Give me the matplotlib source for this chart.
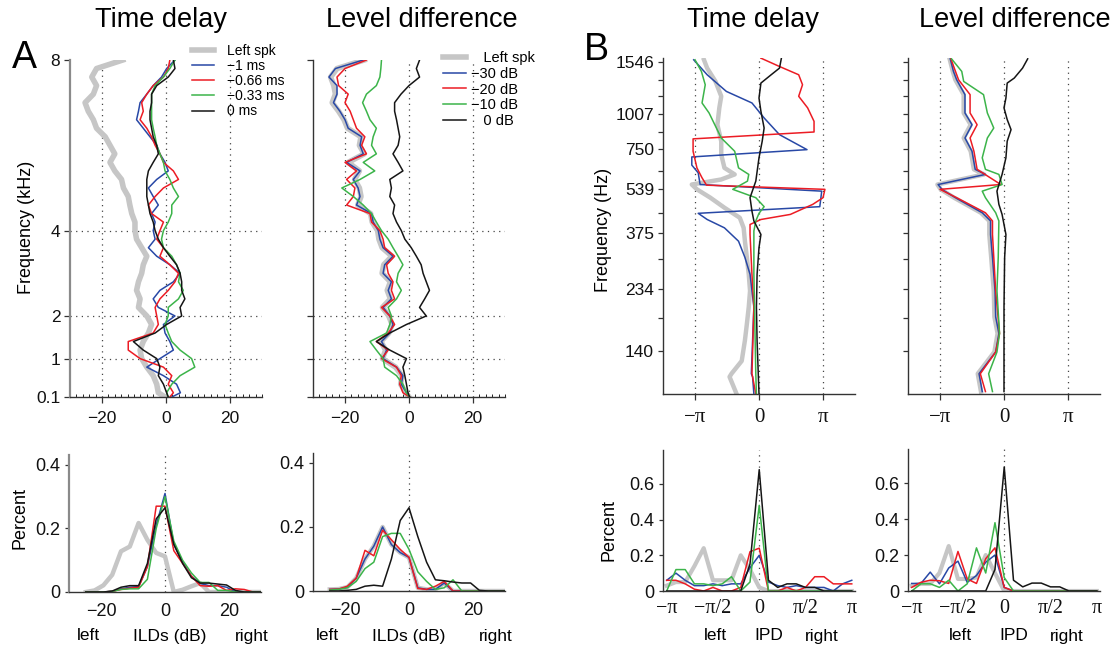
import numpy as np
import matplotlib
matplotlib.use("Agg")
import matplotlib.pyplot as plt

plt.rcParams['font.family'] = ['Liberation Sans', 'DejaVu Sans']
plt.rcParams['axes.linewidth'] = 1.0

W, H = 1114, 648

# ---------------- data ----------------
# Panel A (top): frequency (kHz) vs ILD (dB)
A_FREQ = [8.0, 7.8, 7.6, 7.4, 7.2, 7.0, 6.8, 6.6, 6.4, 6.2, 6.0, 5.8, 5.6, 5.4, 5.2, 5.0,
          4.8, 4.6, 4.4, 4.2, 4.0, 3.8, 3.6, 3.4, 3.2, 3.0, 2.8, 2.6, 2.4, 2.2, 2.0, 1.8,
          1.6, 1.4, 1.2, 1.0, 0.8, 0.6, 0.4, 0.2, 0.1]

A_TD_LEFT = [-13.5, -21.7, -23.2, -21.7, -22.7, -25.3, -24.3, -22.7, -21.7, -19, -17.5, -16, -17.5,
             -16, -13.9, -13.3, -11.8, -11.3, -10.7, -9.7, -9.7, -9.2, -7.6, -6, -7.1, -7.6, -8.6,
             -9.2, -8.1, -8.6, -6, -4.5, -5.5, -7.1, -8.1, -7.6, -6, -4, -2.9, -2.4, -0.3]
A_TD_M1 = [2.8, 0.2, -1.4, -4, -6, -8.1, -8.6, -9.2, -7.1, -5, -2.9, -1.9, -0.3, 0.7, -2.9, -5.5,
           -4, -2.4, -4.5, -3.4, -4, -3.4, -5.5, -2.9, 1.2, 4.4, 2.3, -1.9, -4, -2.4, 2.8, -0.8,
           -0.3, 1.2, 2.3, -1.9, -6, -0.8, 3.3, 4.5, 1.8]
A_TD_M066 = [1.2, 0.7, -0.8, -4, -6, -7.6, -7.1, -8.1, -6, -4.5, -3.4, -1.9, -0.8, 2.3, 3.9, -0.8,
             -3.4, -5.5, -4.5, -0.8, -1.9, -2.9, -0.8, -1.9, 1.2, 3.9, 2.8, 0.7, -1.9, -3.4, -2.9,
             -2.4, -4, -11.8, -11.8, -8.1, -0.8, 1.8, 0.7, 2.3, 1.2]
A_TD_M033 = [2.8, 1.2, -0.8, -3.4, -4.5, -4.5, -4.5, -4.5, -4, -3.4, -2.9, -1.9, -0.8, -0.3, 1.2,
             2.3, 3.9, 1.8, 1.8, 0.7, -0.8, -1.4, -0.8, 1.8, 3.3, 4.4, 3.9, 5.4, 3.9, 0.7, 0.7,
             -0.3, 0.7, 1.8, 4.4, 8, 9, 4.4, 1.8, 0.2, 0.7]
A_TD_0 = [2.3, 2.8, 0.7, -2.9, -4.5, -4.5, -5, -5, -4.5, -4, -2.9, -2.4, -4, -5.5, -6, -6, -6,
          -5.5, -5, -4, -3.4, -2.4, -0.8, 1.2, 3.3, 4.4, 4.9, 4.9, 5.9, 4.4, 4.9, 0.2, -3.4,
          -10.2, -7.1, -2.9, -1.9, -2.4, -0.8, 0.2, 0.7]

A_LD_LEFT = [-14.0, -22.5, -24.5, -23.5, -23.0, -24.0, -22.0, -20.3, -19.2, -15.0, -15.5, -14.0,
             -19.0, -15.5, -17.0, -15.5, -15.0, -16.0, -12.0, -11.5, -9.8, -9.4, -8.4, -5.3, -7.9,
             -8.4, -5.8, -6.8, -5.8, -8.3, -6.3, -5.3, -6.3, -8.8, -7.3, -8.3, -4.2, -2.2, -2.6,
             -1.0, 0.0]
A_LD_M30 = [-14.3, -23, -25, -22.5, -22.5, -23.6, -21.6, -20, -19, -14.8, -15.3, -14.3, -19.5,
            -15.3, -17.4, -15.9, -15.3, -16.4, -11.7, -11.2, -9.6, -9.1, -8.1, -5, -7.6, -8.1,
            -5.5, -6.5, -5.5, -8.1, -6, -5, -6, -8.6, -7, -8.1, -3.9, -1.9, -2.4, -0.8, 0.2]
A_LD_M20 = [-13.3, -20, -22.5, -22, -19, -20, -18.4, -17.4, -16.4, -13.8, -14.8, -13.3, -20,
            -16.4, -19.5, -16.9, -17.4, -19.5, -12.2, -11.7, -9.1, -8.1, -7.6, -4.5, -7, -6.5,
            -5, -5.5, -4.5, -8.6, -6, -4.5, -6.5, -10.2, -6.5, -8.6, -3.9, -2.4, -2.9, -1.9, 0.2]
A_LD_M10 = [-8.6, -8.8, -9.1, -10.2, -13.3, -14.5, -13.3, -12.2, -10.2, -11.2, -11.7, -10.2,
            -14.3, -10.7, -15.3, -21, -17.4, -14.3, -11.7, -10.2, -8.6, -6.5, -5, -3.4, -1.9,
            -3.4, -3.9, -2.4, -3.9, -6.5, -5.5, -6, -7, -12.2, -10.2, -8.1, -7.6, -3.9, -1.9,
            -0.8, 0.2]
A_LD_0 = [3.3, 2.3, 3.3, 0, -2.5, -4.5, -4.5, -3.9, -3.4, -2.9, -3.4, -5, -3.4, -1.9, -6, -5.5,
          -6, -4.5, -5, -3.9, -2.4, -1.3, 0.7, 2.3, 3.8, 4.4, 5.4, 6.4, 4.9, 3.3, 5.4, -0.8, -6,
          -10.2, -6, -0.8, -1.9, -1.3, -0.8, -0.3, 0.2]

# Panel A (bottom): ILD histograms
A_BINS = [-24.75, -22, -19.25, -16.5, -13.75, -11, -8.25, -5.5, -2.75, 0, 2.75, 5.5, 8.25, 11,
          13.75, 16.5, 19.25, 22, 24.75, 27.5, 30]
AH_TD_LEFT = [0, 0.005, 0.021, 0.054, 0.128, 0.143, 0.217, 0.164, 0.123, 0.112, 0, 0.007, 0.018,
              0.028, 0, 0, 0, 0, 0, 0, 0]
AH_TD_M1 = [0, 0, 0, 0.002, 0.01, 0.015, 0.017, 0.08, 0.21, 0.31, 0.15, 0.095, 0.05, 0.027,
            0.02, 0.02, 0.015, 0, 0, 0, 0]
AH_TD_M066 = [0, 0, 0, 0.002, 0.008, 0.012, 0.015, 0.08, 0.27, 0.27, 0.13, 0.09, 0.05, 0.02,
              0.018, 0.02, 0.005, 0.01, 0.008, 0, 0]
AH_TD_M033 = [0, 0, 0, 0.002, 0.008, 0.01, 0.01, 0.04, 0.2, 0.3, 0.16, 0.1, 0.06, 0.03, 0.03,
              0.005, 0.005, 0, 0, 0, 0]
AH_TD_0 = [0, 0, 0, 0.003, 0.015, 0.02, 0.02, 0.09, 0.23, 0.265, 0.15, 0.09, 0.045, 0.028,
           0.028, 0.025, 0.022, 0.005, 0, 0, 0]

AH_LD_LEFT = [0.005, 0.006, 0.012, 0.04, 0.1, 0.14, 0.2, 0.145, 0.12, 0.105, 0.01, 0.005,
              0.005, 0.025, 0, 0, 0, 0, 0, 0, 0]
AH_LD_M30 = [0.005, 0.006, 0.012, 0.04, 0.1, 0.14, 0.2, 0.145, 0.12, 0.105, 0.01, 0.005, 0.005,
             0.025, 0, 0, 0, 0, 0, 0, 0]
AH_LD_M20 = [0.005, 0.006, 0.015, 0.04, 0.127, 0.11, 0.19, 0.16, 0.13, 0.105, 0.008, 0.005,
             0.015, 0.03, 0, 0, 0, 0, 0, 0, 0]
AH_LD_M10 = [0.003, 0.005, 0.01, 0.03, 0.07, 0.09, 0.17, 0.18, 0.18, 0.13, 0.06, 0.03, 0.005,
             0.01, 0.035, 0, 0, 0, 0, 0, 0]
AH_LD_0 = [0, 0, 0.002, 0.005, 0.015, 0.018, 0.015, 0.1, 0.22, 0.26, 0.17, 0.09, 0.035, 0.032,
           0.028, 0.025, 0.025, 0.002, 0, 0, 0]

# Panel B (top): frequency (Hz) vs IPD (in units of pi)
B_TICKS = [140, 185, 234, 302, 375, 442, 539, 628, 750, 865, 1007, 1170, 1328, 1546]
B_TICKLABELS = ['140', '', '234', '', '375', '', '539', '', '750', '', '1007', '', '', '1546']

B_TD_LEFT_F = [1576, 1471, 1317, 1164, 1057, 919, 801, 717, 642, 608, 583, 559, 537, 501, 461,
               424, 390, 349, 305, 265, 231, 202, 175, 153, 129, 116, 113, 98]
B_TD_LEFT = [-0.86, -0.81, -0.68, -0.59, -0.62, -0.65, -0.59, -0.59, -0.54, -0.38, -0.59, -1.05,
             -0.97, -0.76, -0.54, -0.30, -0.24, -0.22, -0.19, -0.16, -0.14, -0.16, -0.19, -0.22,
             -0.27, -0.43, -0.46, -0.35]
B_TD_M1_F = [1576, 1392, 1212, 1101, 972, 846, 747, 703, 657, 616, 559, 529, 465, 440, 418, 390,
             349, 305, 265, 202, 116, 113, 98]
B_TD_M1 = [-1.02, -0.81, -0.51, -0.11, 0.08, 0.32, 0.75, -1.05, -1.05, -0.95, -0.92, 0.98, 0.95,
           -0.95, -0.81, -0.54, -0.32, -0.22, -0.14, -0.08, -0.12, -0.10, -0.08]
B_TD_M066_F = [1598, 1491, 1392, 1281, 1164, 1057, 945, 865, 817, 737, 642, 591, 556, 537, 501,
               474, 436, 418, 401, 369, 265, 202, 116, 113, 98]
B_TD_M066 = [0.03, 0.32, 0.62, 0.68, 0.62, 0.76, 0.86, 0.86, -1.03, -1.03, -0.97, -0.89, -0.82,
             1.03, 1.0, 0.84, 0.49, 0.03, -0.14, -0.14, -0.11, -0.08, -0.11, -0.10, -0.05]
B_TD_M033_F = [1576, 1431, 1281, 1101, 1013, 823, 737, 642, 608, 575, 537, 501, 465, 440, 413,
               380, 265, 116, 98]
B_TD_M033 = [-1.0, -0.9, -0.84, -0.89, -0.78, -0.59, -0.38, -0.32, -0.16, -0.18, -0.41, -0.05,
             0.08, 0.0, -0.05, -0.08, -0.08, -0.05, -0.04]
B_TD_0_F = [1598, 1471, 1392, 1299, 1147, 1027, 894, 801, 698, 575, 501, 448, 413, 369, 331, 265,
            202, 153, 98]
B_TD_0 = [0.35, 0.32, 0.19, 0.03, 0.0, 0.03, 0.08, 0.05, 0.0, -0.05, -0.14, -0.11, -0.08, 0.03,
          0.0, -0.03, -0.04, -0.03, 0.0]

B_LD_M30_F = [1589, 1431, 1335, 1180, 1013, 919, 823, 737, 634, 608, 559, 537, 501, 442, 413, 369,
              305, 231, 186, 162, 139, 116, 100]
B_LD_M30 = [-0.84, -0.79, -0.74, -0.61, -0.61, -0.5, -0.61, -0.5, -0.45, -0.29, -1.03, -0.97,
            -0.76, -0.34, -0.21, -0.21, -0.18, -0.14, -0.13, -0.08, -0.13, -0.39, -0.34]
B_LD_LEFT_F = B_LD_M30_F
B_LD_LEFT = [-0.85, -0.80, -0.76, -0.63, -0.63, -0.52, -0.63, -0.52, -0.47, -0.31, -1.04, -0.99,
             -0.78, -0.36, -0.23, -0.23, -0.20, -0.16, -0.15, -0.10, -0.15, -0.41, -0.36]
B_LD_M20_F = [1589, 1335, 1180, 1013, 919, 823, 737, 634, 559, 537, 501, 442, 413, 369, 231, 162,
              139, 116, 100]
B_LD_M20 = [-0.83, -0.71, -0.53, -0.53, -0.42, -0.53, -0.47, -0.42, -0.05, -1.0, -0.74, -0.29,
            -0.18, -0.18, -0.13, -0.07, -0.13, -0.37, -0.29]
B_LD_M10_F = [1589, 1431, 1317, 1180, 1013, 894, 823, 698, 634, 608, 559, 529, 501, 442, 413, 305,
              231, 162, 139, 116, 100]
B_LD_M10 = [-0.82, -0.66, -0.63, -0.32, -0.26, -0.16, -0.26, -0.34, -0.29, -0.08, -0.03, -0.34,
            -0.29, -0.13, -0.08, -0.09, -0.11, -0.07, -0.11, -0.24, -0.18]
B_LD_0_F = [1589, 1471, 1354, 1299, 1147, 1057, 959, 882, 801, 698, 608, 529, 474, 436, 369, 305,
            202, 100]
B_LD_0 = [0.37, 0.29, 0.16, 0.05, 0.03, 0.0, 0.05, 0.11, 0.05, 0.03, -0.03, -0.11, -0.08, -0.03,
          0.03, 0.01, 0.0, 0.0]

# Panel B (bottom): IPD histograms (bins in units of pi)
B_BINS = [-1.0, -0.9, -0.8, -0.7, -0.6, -0.5, -0.4, -0.3, -0.2, -0.1, 0.0, 0.1, 0.2, 0.3, 0.4,
          0.5, 0.6, 0.7, 0.8, 0.9, 1.0]
BH_TD_LEFT = [0.03, 0.05, 0.05, 0.14, 0.24, 0.06, 0.06, 0.06, 0.2, 0.12, 0.02, 0, 0, 0, 0, 0, 0,
              0, 0, 0, 0]
BH_TD_M1 = [0.06, 0.1, 0.06, 0.03, 0.03, 0.04, 0.03, 0.04, 0.04, 0.13, 0.2, 0.05, 0.03, 0.02,
            0.03, 0.02, 0.02, 0.02, 0.0, 0.04, 0.06]
BH_TD_M066 = [0.06, 0.06, 0.04, 0.01, 0.0, 0.02, 0.0, 0.0, 0.02, 0.22, 0.24, 0.0, 0.0, 0.02, 0.0,
              0.02, 0.08, 0.08, 0.04, 0.04, 0.04]
BH_TD_M033 = [0.0, 0.12, 0.12, 0.04, 0.04, 0.03, 0.04, 0.08, 0.0, 0.05, 0.48, 0.0, 0, 0, 0, 0, 0,
              0, 0, 0, 0]
BH_TD_0 = [0, 0, 0, 0, 0, 0, 0, 0, 0, 0.15, 0.68, 0.06, 0.02, 0.04, 0.04, 0.02, 0.02, 0.0, 0, 0, 0]

BH_LD_LEFT = [0.03, 0.04, 0.04, 0.1, 0.25, 0.067, 0.067, 0.075, 0.2, 0.1, 0.0, 0, 0, 0, 0, 0, 0,
              0, 0, 0, 0]
BH_LD_M30 = [0.042, 0.042, 0.105, 0.04, 0.128, 0.166, 0.048, 0.086, 0.16, 0.2, 0.02, 0, 0, 0, 0,
             0, 0, 0, 0, 0, 0]
BH_LD_M20 = [0.02, 0.048, 0.06, 0.057, 0.042, 0.22, 0.067, 0.042, 0.18, 0.24, 0.02, 0, 0, 0, 0,
             0, 0, 0, 0, 0, 0]
BH_LD_M10 = [0.0, 0.04, 0.04, 0.02, 0.06, 0.0, 0.04, 0.24, 0.1, 0.38, 0.075, 0, 0, 0, 0, 0, 0, 0,
             0, 0, 0]
BH_LD_0 = [0, 0, 0, 0, 0, 0, 0, 0, 0, 0.12, 0.69, 0.06, 0.023, 0.044, 0.044, 0.023, 0.023, 0.0,
           0, 0, 0]

# ---------------- style ----------------
GRAY = '#c6c6c6'
BLUE = '#2848a6'
RED = '#ec1c24'
GREEN = '#3cb44a'
BLACK = '#151515'
DOT = (0, (1, 3.5))
SERIF = ['Liberation Serif', 'DejaVu Serif']

fig = plt.figure(figsize=(W / 100, H / 100), dpi=100)


def add_ax(x0, y0, x1, y1):
    return fig.add_axes([x0 / W, 1 - y1 / H, (x1 - x0) / W, (y1 - y0) / H])


def style(ax, spine_color='#333333', lw=1.0):
    for s in ['top', 'right']:
        ax.spines[s].set_visible(False)
    for s in ['left', 'bottom']:
        ax.spines[s].set_color('#333333')
    ax.spines['left'].set_color(spine_color)
    ax.spines['left'].set_linewidth(lw)
    ax.tick_params(direction='out', length=4, width=0.9, colors='#333333',
                   labelcolor='#111111', labelsize=12.5, pad=3)


# ---------- A top panels ----------
def a_top(ax, series, show_ylabels):
    ax.set_xlim(-30, 30)
    ax.set_ylim(0.1, 8.0)
    for xv in [-20, 0, 20]:
        ax.axvline(xv, ls=DOT, color='#444444', lw=0.9, zorder=0)
    for yv in [1, 2, 4]:
        ax.axhline(yv, ls=DOT, color='#444444', lw=0.9, zorder=0)
    handles = []
    for vals, col, lw in series:
        h, = ax.plot(vals, A_FREQ, color=col, lw=lw, solid_joinstyle='round')
        handles.append(h)
    ax.set_yticks([0.1, 1, 2, 4, 8])
    ax.set_yticklabels(['0.1', '1', '2', '4', '8'] if show_ylabels else [])
    ax.set_xticks([-20, 0, 20])
    ax.set_xticklabels(['\u221220', '0', '20'])
    ax.set_xticks(np.arange(-30, 31, 2), minor=True)
    ax.tick_params(axis='x', which='minor', length=2, width=0.6, direction='in')
    ax.tick_params(axis='x', pad=6)
    return handles


axA1 = add_ax(70, 60, 262, 397)
style(axA1, spine_color='#8a8a8a', lw=1.6)
h1 = a_top(axA1, [(A_TD_LEFT, GRAY, 4.0), (A_TD_M1, BLUE, 1.1), (A_TD_M066, RED, 1.1),
                  (A_TD_M033, GREEN, 1.1), (A_TD_0, BLACK, 1.1)], True)
axA1.legend(h1, ['Left spk', '\u22121 ms', '\u22120.66 ms', '\u22120.33 ms', '0 ms'],
            loc='upper left', bbox_to_anchor=(192 / W, 1 - 44 / H), bbox_transform=fig.transFigure,
            frameon=False, fontsize=10, handlelength=1.55, handletextpad=1.0, labelspacing=0.08,
            borderpad=0, borderaxespad=0)

axA2 = add_ax(313, 60, 505, 397)
style(axA2)
h2 = a_top(axA2, [(A_LD_LEFT, GRAY, 4.0), (A_LD_M30, BLUE, 1.1), (A_LD_M20, RED, 1.1),
                  (A_LD_M10, GREEN, 1.1), (A_LD_0, BLACK, 1.1)], False)
axA2.legend(h2, ['   Left spk', '\u221230 dB', '\u221220 dB', '\u221210 dB', '   0 dB'],
            loc='upper left', bbox_to_anchor=(443 / W, 1 - 51 / H), bbox_transform=fig.transFigure,
            frameon=False, fontsize=10.5, handlelength=1.55, handletextpad=0.35, labelspacing=0.12,
            borderpad=0, borderaxespad=0)


# ---------- B top panels ----------
def b_top(ax, series, show_ylabels):
    ax.set_yscale('log')
    ax.set_xlim(-1.5, 1.5)
    ax.set_ylim(98, 1600)
    for xv in [-1, 0, 1]:
        ax.axvline(xv, ls=DOT, color='#444444', lw=0.9, zorder=0)
    for f, vals, col, lw in series:
        ax.plot(vals, f, color=col, lw=lw, solid_joinstyle='round')
    ax.yaxis.set_minor_locator(matplotlib.ticker.NullLocator())
    ax.set_yticks(B_TICKS)
    ax.set_yticklabels(B_TICKLABELS if show_ylabels else [])
    ax.tick_params(axis='y', length=3.5)
    ax.set_xticks([-1, 0, 1])
    ax.set_xticklabels(['\u2212\u03c0', '0', '\u03c0'], family=SERIF, fontsize=15)
    ax.tick_params(axis='x', pad=6)


axB1 = add_ax(663, 58, 855, 394)
style(axB1)
b_top(axB1, [(B_TD_LEFT_F, B_TD_LEFT, GRAY, 3.2), (B_TD_M1_F, B_TD_M1, BLUE, 1.1),
             (B_TD_M066_F, B_TD_M066, RED, 1.1), (B_TD_M033_F, B_TD_M033, GREEN, 1.1),
             (B_TD_0_F, B_TD_0, BLACK, 1.1)], True)

axB2 = add_ax(908, 58, 1100, 394)
style(axB2)
b_top(axB2, [(B_LD_LEFT_F, B_LD_LEFT, GRAY, 3.2), (B_LD_M30_F, B_LD_M30, BLUE, 1.1),
             (B_LD_M20_F, B_LD_M20, RED, 1.1), (B_LD_M10_F, B_LD_M10, GREEN, 1.1),
             (B_LD_0_F, B_LD_0, BLACK, 1.1)], False)


# ---------- A bottom ----------
def a_hist(ax, series):
    ax.set_xlim(-30, 30)
    ax.set_ylim(0, 0.431)
    ax.axvline(0, ls=DOT, color='#444444', lw=0.9, zorder=0)
    for vals, col, lw in series:
        ax.plot(A_BINS, vals, color=col, lw=lw, solid_joinstyle='round')
    ax.set_xticks([-20, 0, 20])
    ax.set_xticklabels(['\u221220', '0', '20'])
    ax.set_yticks([0, 0.2, 0.4])
    ax.set_yticklabels(['0', '0.2', '0.4'])
    ax.tick_params(labelsize=13)
    ax.tick_params(axis='x', length=0, pad=8)
    ax.tick_params(axis='y', length=3)


axA3 = add_ax(69, 455, 261, 592)
style(axA3, spine_color='#8a8a8a', lw=1.6)
a_hist(axA3, [(AH_TD_LEFT, GRAY, 3.2), (AH_TD_M1, BLUE, 1.1), (AH_TD_M066, RED, 1.1),
              (AH_TD_M033, GREEN, 1.1), (AH_TD_0, BLACK, 1.1)])
axA4 = add_ax(313, 453, 505, 591)
style(axA4)
a_hist(axA4, [(AH_LD_LEFT, GRAY, 3.2), (AH_LD_M30, BLUE, 1.1), (AH_LD_M20, RED, 1.1),
              (AH_LD_M10, GREEN, 1.1), (AH_LD_0, BLACK, 1.1)])


# ---------- B bottom ----------
def b_hist(ax, series):
    ax.set_xlim(-1.04, 1.035)
    ax.set_ylim(0, 0.79)
    ax.axvline(0, ls=DOT, color='#444444', lw=0.9, zorder=0)
    for vals, col, lw in series:
        ax.plot(B_BINS, vals, color=col, lw=lw, solid_joinstyle='round')
    ax.set_xticks([-1, -0.5, 0, 0.5, 1])
    ax.set_xticklabels(['\u2212\u03c0', '\u2212\u03c0/2', '0', '\u03c0/2', '\u03c0'],
                       family=SERIF, fontsize=14.5)
    ax.set_yticks([0, 0.2, 0.4, 0.6])
    ax.set_yticklabels(['0', '0.2', '0.4', '0.6'])
    ax.tick_params(axis='y', labelsize=13, length=3)
    ax.tick_params(axis='x', length=0, pad=6)


axB3 = add_ax(663, 450, 855, 591)
style(axB3)
b_hist(axB3, [(BH_TD_LEFT, GRAY, 3.0), (BH_TD_M1, BLUE, 1.1), (BH_TD_M066, RED, 1.1),
              (BH_TD_M033, GREEN, 1.1), (BH_TD_0, BLACK, 1.1)])
axB4 = add_ax(908, 449, 1100, 591)
style(axB4)
b_hist(axB4, [(BH_LD_LEFT, GRAY, 3.0), (BH_LD_M30, BLUE, 1.1), (BH_LD_M20, RED, 1.1),
              (BH_LD_M10, GREEN, 1.1), (BH_LD_0, BLACK, 1.1)])

# ---------- figure texts ----------
def ftext(x, y, s, **kw):
    fig.text(x / W, 1 - y / H, s, **kw)


ftext(161, 27, 'Time delay', ha='center', va='baseline', fontsize=19.5)
ftext(422, 27, 'Level difference', ha='center', va='baseline', fontsize=19.5)
ftext(753, 27, 'Time delay', ha='center', va='baseline', fontsize=19.5)
ftext(1015, 27, 'Level difference', ha='center', va='baseline', fontsize=19.5)
ftext(24, 68, 'A', ha='center', va='baseline', fontsize=27)
ftext(596, 60, 'B', ha='center', va='baseline', fontsize=27)

ftext(27, 227, 'Frequency (kHz)', ha='center', va='center', rotation=90, fontsize=13)
ftext(603, 230, 'Frequency (Hz)', ha='center', va='center', rotation=90, fontsize=13)
ftext(20, 518, 'Percent', ha='center', va='center', rotation=90, fontsize=13)
ftext(609, 530, 'Percent', ha='center', va='center', rotation=90, fontsize=13)

for (xl, xm, xr, mid) in [(88, 170, 252, 'ILDs (dB)'), (327, 409, 496, 'ILDs (dB)'),
                          (715, 769, 822, 'IPD'), (960, 1014, 1067, 'IPD')]:
    ftext(xl, 636, 'left', ha='center', va='center', fontsize=12.5)
    ftext(xm, 636, mid, ha='center', va='center', fontsize=12.5)
    ftext(xr, 636, 'right', ha='center', va='center', fontsize=12.5)

fig.savefig('out.png', dpi=100)
